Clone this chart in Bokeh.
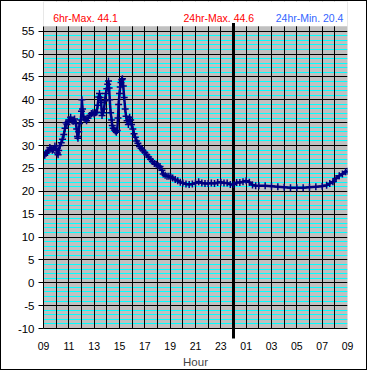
from bokeh.plotting import figure
from bokeh.models import FixedTicker, Range1d
from bokeh.core.properties import value
from bokeh.embed import file_html
from bokeh.resources import INLINE

# hours since 09:00
hours = [0.00, 0.10, 0.20, 0.30, 0.40, 0.50, 0.60, 0.70, 0.80, 0.90, 1.00, 1.10, 1.15, 1.20, 1.30,
         1.40, 1.50, 1.60, 1.70, 1.77, 1.85, 1.95, 2.05, 2.14, 2.25, 2.35, 2.45, 2.55, 2.62, 2.68,
         2.72, 2.78, 2.85, 2.95, 3.00, 3.03, 3.08, 3.15, 3.28, 3.40, 3.52, 3.65, 3.78, 3.90, 4.00,
         4.10, 4.20, 4.28, 4.35, 4.42, 4.48, 4.55, 4.62, 4.70, 4.78, 4.85, 4.92, 5.00, 5.07, 5.13,
         5.18, 5.23, 5.30, 5.38, 5.43, 5.50, 5.60, 5.68, 5.75, 5.82, 5.88, 5.93, 6.00, 6.06, 6.12,
         6.18, 6.23, 6.30, 6.37, 6.45, 6.52, 6.60, 6.70, 6.80, 6.88, 6.95, 7.05, 7.15, 7.25, 7.35,
         7.45, 7.58, 7.70, 7.85, 8.00, 8.15, 8.30, 8.45, 8.60, 8.75, 8.90, 9.05, 9.20, 9.35, 9.45,
         9.60, 9.75, 9.90, 10.05, 10.20, 10.40, 10.60, 10.80, 11.00, 11.25, 11.50, 11.75, 12.00, 12.25, 12.50,
         12.75, 13.00, 13.25, 13.50, 13.75, 14.00, 14.25, 14.50, 14.75, 15.00, 15.25, 15.50, 15.75, 16.00, 16.25,
         16.50, 16.75, 17.00, 17.50, 18.00, 18.50, 19.00, 19.50, 20.00, 20.50, 21.00, 21.50, 22.00, 22.35, 22.60,
         22.85, 23.10, 23.35, 23.60, 23.85, 24.00]
temps = [27.8, 27.9, 28.3, 28.6, 28.9, 29.6, 29.3, 29.0, 29.2, 29.9, 29.4, 28.4, 28.0, 28.9, 30.0,
         30.6, 31.4, 32.4, 33.8, 35.0, 34.6, 35.2, 35.6, 36.2, 35.4, 35.3, 35.8, 34.8, 33.6, 32.0,
         31.6, 33.0, 34.8, 35.6, 37.5, 40.0, 38.0, 36.3, 35.8, 35.4, 36.0, 36.6, 37.0, 37.2, 36.9,
         37.2, 37.3, 38.8, 40.6, 41.4, 40.5, 39.4, 36.6, 37.2, 38.0, 39.8, 41.4, 42.4, 43.4, 44.1,
         42.6, 40.0, 37.2, 35.6, 34.4, 33.8, 33.4, 33.2, 32.9, 33.3, 36.0, 39.0, 41.4, 42.8, 43.8,
         44.4, 44.6, 43.0, 40.5, 38.0, 36.4, 35.4, 34.6, 36.2, 35.6, 34.6, 33.6, 32.6, 31.8, 31.0,
         30.5, 29.8, 29.4, 28.9, 28.5, 28.0, 27.5, 27.0, 26.5, 26.1, 25.9, 25.6, 25.4, 24.6, 23.8,
         23.5, 23.3, 23.3, 23.1, 22.9, 22.6, 22.3, 22.0, 21.8, 21.6, 21.5, 21.6, 21.8, 22.1, 21.8,
         21.7, 21.7, 21.8, 21.7, 21.9, 22.0, 21.8, 21.8, 21.5, 21.5, 21.9, 21.9, 22.1, 22.3, 22.0,
         21.4, 21.2, 21.2, 21.2, 21.1, 21.0, 20.9, 20.8, 20.8, 20.8, 20.9, 21.0, 21.1, 21.3, 21.7,
         22.1, 22.8, 23.4, 23.8, 24.3, 24.4]

x_ticks = [0, 2, 4, 6, 8, 10, 12, 14, 16, 18, 20, 22, 24]
x_tick_labels = ["09", "11", "13", "15", "17", "19", "21", "23", "01", "03", "05", "07", "09"]
y_ticks = [-10, -5, 0, 5, 10, 15, 20, 25, 30, 35, 40, 45, 50, 55]
y_tick_labels = ["-10", "-5", "0", "5", "10", "15", "20", "25", "30", "35", "40", "45", "50", "55"]
midnight = 15

max6 = 44.1
max24 = 44.6
min24 = 20.4

header_texts = [f"6hr-Max. {max6}", f"24hr-Max. {max24}", f"24hr-Min. {min24}"]
header_colors = ["#ff0000", "#ff0000", "#3366ff"]

FONT = "Liberation Sans"

Y_MIN = -10
Y_PLOT_TOP = 56.1     # top of grey plot area
Y_VIEW_TOP = 61.5     # top of the figure (header zone above the plot area)

p = figure(width=367, height=370, x_range=Range1d(0, 24), y_range=Range1d(Y_MIN, Y_VIEW_TOP),
           output_backend="svg", toolbar_location=None,
           min_border_left=42, min_border_right=21, min_border_top=0, min_border_bottom=43)
p.background_fill_color = "#c0c0c0"
p.border_fill_color = "white"
p.outline_line_color = None
p.styles = {"border": "1px solid black"}

# x axis
p.xaxis.ticker = FixedTicker(ticks=x_ticks, minor_ticks=[midnight])
p.xaxis.major_label_overrides = {t: l for t, l in zip(x_ticks, x_tick_labels)}
p.xaxis.major_tick_out = 0
p.xaxis.major_tick_in = 0
p.xaxis.minor_tick_out = 10
p.xaxis.minor_tick_in = 0
p.xaxis.minor_tick_line_width = 3
p.xaxis.minor_tick_line_color = "black"
p.xaxis.axis_line_color = "black"
p.xaxis.major_label_standoff = 3
p.xaxis.major_label_text_font = FONT
p.xaxis.major_label_text_font_size = "10.5px"
p.xaxis.major_label_text_color = "black"
p.xaxis.axis_label = "Hour"
p.xaxis.axis_label_text_font = FONT
p.xaxis.axis_label_text_font_size = "11.5px"
p.xaxis.axis_label_text_font_style = "normal"
p.xaxis.axis_label_standoff = 3

# y axis
p.yaxis.ticker = FixedTicker(ticks=y_ticks, minor_ticks=[])
p.yaxis.bounds = (Y_MIN, Y_PLOT_TOP)
p.yaxis.major_label_overrides = {t: l for t, l in zip(y_ticks, y_tick_labels)}
p.yaxis.major_tick_out = 5
p.yaxis.major_tick_in = 0
p.yaxis.major_tick_line_color = "black"
p.yaxis.axis_line_color = "black"
p.yaxis.major_label_standoff = 4
p.yaxis.major_label_text_font = FONT
p.yaxis.major_label_text_font_size = "11.5px"
p.yaxis.major_label_text_color = "black"

# grids
p.xgrid.ticker = FixedTicker(ticks=list(range(0, 25)))
p.xgrid.grid_line_color = "black"
p.xgrid.grid_line_width = 1
p.ygrid.ticker = FixedTicker(ticks=y_ticks,
                             minor_ticks=[v for v in range(-10, 56) if v % 5 != 0])
p.ygrid.grid_line_color = "black"
p.ygrid.minor_grid_line_color = "#00ffff"
p.ygrid.level = "image"

# white header zone above the grey plot area
p.quad(left=[0], right=[24], bottom=[Y_PLOT_TOP], top=[Y_VIEW_TOP + 1],
       fill_color="white", line_color=None)

# midnight divider (slightly overshooting the plot area top)
p.segment(x0=[midnight], y0=[Y_MIN], x1=[midnight], y1=[Y_PLOT_TOP + 0.7],
          line_color="black", line_width=3)

# data
p.line(hours, temps, line_color="#000080", line_width=2.5)
p.scatter(hours, temps, marker="cross", size=7, line_color="#000080", line_width=1.5)

# header texts
p.text(x=[0.76], y=[57.9], text=[header_texts[0]], text_color=header_colors[0],
       text_font=value(FONT), text_font_size="10.5px", text_align="left",
       text_baseline="alphabetic")
p.text(x=[13.84], y=[57.9], text=[header_texts[1]], text_color=header_colors[1],
       text_font=value(FONT), text_font_size="10.5px", text_align="center",
       text_baseline="alphabetic")
p.text(x=[23.68], y=[57.9], text=[header_texts[2]], text_color=header_colors[2],
       text_font=value(FONT), text_font_size="10.5px", text_align="right",
       text_baseline="alphabetic")

open("out.html", "w").write(file_html(p, INLINE))
